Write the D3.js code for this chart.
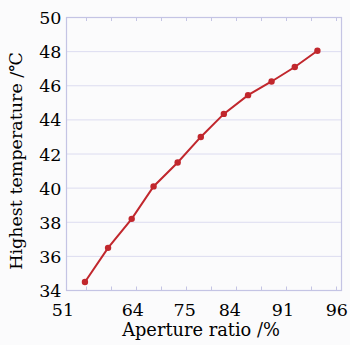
<!DOCTYPE html>
<html lang="en">
<head>
<meta charset="UTF-8">
<script src="https://d3js.org/d3.v7.min.js"></script>
<style>
	body { margin: 0; background: #fbfbfc; }
	svg { display: block; }
	text { font-family: "DejaVu Serif", serif; fill: #000; }
</style>
</head>
<body>
<svg width="350" height="345"></svg>
<script>
	// aperture ratio (%) and highest temperature (degC)
	var aperture = [55.1, 59.4, 63.8, 68.4, 73.5, 78.2, 82.8, 86.4, 89.5, 92.1, 94.2];
	var temperature = [34.5, 36.5, 38.2, 40.1, 41.5, 43.0, 44.35, 45.45, 46.25, 47.1, 48.05];
	var xTickLabels = [51, 64, 75, 84, 91, 96];
	var yTicks = [34, 36, 38, 40, 42, 44, 46, 48, 50];

	var svg = d3.select('svg');
	var pLeft = 66.5, pRight = 341.5, pTop = 17.5, pBottom = 290.5;
	var w = pRight - pLeft;

	// labels in the figure sit at uneven places along the axis
	var labelFrac = [-0.013, 0.241, 0.43, 0.594, 0.787, 0.983];
	var x = d3.scaleLinear()
		.domain(xTickLabels)
		.range(labelFrac.map(function(f){ return pLeft + f * w; }));
	var y = d3.scaleLinear().domain([34, 50]).range([pBottom, pTop]);

	var axisColor = '#c4c4e4';
	var gridColor = '#dcdcf0';

	// grid
	svg.append('g')
		.selectAll('line')
		.data(yTicks.slice(1, -1))
		.enter()
		.append('line')
		.attr('x1', pLeft).attr('x2', pRight)
		.attr('y1', function(d){ return y(d); })
		.attr('y2', function(d){ return y(d); })
		.attr('stroke', gridColor)
		.attr('stroke-width', 1);

	// frame
	svg.append('rect')
		.attr('x', pLeft).attr('y', pTop)
		.attr('width', w).attr('height', pBottom - pTop)
		.attr('fill', 'none')
		.attr('stroke', axisColor)
		.attr('stroke-width', 1.2);

	// minor ticks on top and bottom edges
	var minor = d3.range(11).map(function(k){ return pLeft + 20 + 25 * k; });
	svg.append('g').selectAll('line')
		.data(minor).enter().append('line')
		.attr('x1', function(d){ return d; }).attr('x2', function(d){ return d; })
		.attr('y1', pBottom).attr('y2', pBottom - 4)
		.attr('stroke', axisColor);
	svg.append('g').selectAll('line')
		.data(minor).enter().append('line')
		.attr('x1', function(d){ return d; }).attr('x2', function(d){ return d; })
		.attr('y1', pTop).attr('y2', pTop + 3.5)
		.attr('stroke', axisColor);

	// tick labels
	svg.append('g').selectAll('text')
		.data(yTicks).enter().append('text')
		.attr('x', 61.5)
		.attr('y', function(d){ return y(d) + 6.5; })
		.attr('text-anchor', 'end')
		.attr('font-size', 17.5)
		.text(function(d){ return d; });

	svg.append('g').selectAll('text')
		.data(xTickLabels).enter().append('text')
		.attr('x', function(d){ return x(d); })
		.attr('y', 315.5)
		.attr('text-anchor', 'middle')
		.attr('font-size', 17.5)
		.text(function(d){ return d; });

	// axis titles
	svg.append('text')
		.attr('x', 201).attr('y', 336)
		.attr('text-anchor', 'middle')
		.attr('font-size', 17.8)
		.text('Aperture ratio /%');

	svg.append('text')
		.attr('transform', 'translate(22,161) rotate(-90)')
		.attr('text-anchor', 'middle')
		.attr('font-size', 17.5)
		.text('Highest temperature /℃');

	// series
	var pts = aperture.map(function(a, i){ return [a, temperature[i]]; });
	svg.append('path')
		.datum(pts)
		.attr('fill', 'none')
		.attr('stroke', '#c1272d')
		.attr('stroke-width', 2)
		.attr('d', d3.line()
			.x(function(d){ return x(d[0]); })
			.y(function(d){ return y(d[1]); }));

	svg.append('g').selectAll('circle')
		.data(pts).enter().append('circle')
		.attr('cx', function(d){ return x(d[0]); })
		.attr('cy', function(d){ return y(d[1]); })
		.attr('r', 3.2)
		.attr('fill', '#c1272d');
</script>
</body>
</html>
